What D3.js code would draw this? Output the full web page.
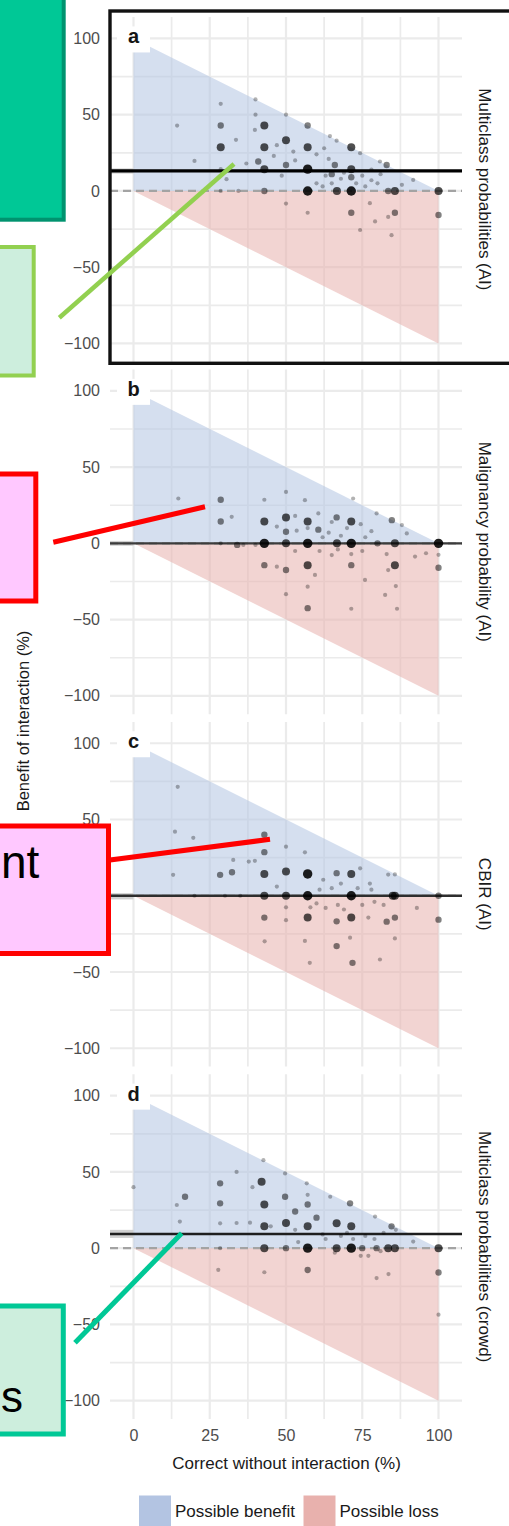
<!DOCTYPE html>
<html>
<head>
<meta charset="utf-8">
<script src="https://cdn.jsdelivr.net/npm/d3@7"></script>
<style>
  html, body { margin: 0; padding: 0; background: #fff; }
  svg { display: block; font-family: "Liberation Sans", Arial, Helvetica, sans-serif; }
</style>
</head>
<body>
<svg id="chart" width="509" height="1526"></svg>
<script>
// ---- data -------------------------------------------------------------
const panelIds = ["a", "b", "c", "d"];
const stripLabels = [
  "Multiclass probabilities (AI)",
  "Malignancy probability (AI)",
  "CBIR (AI)",
  "Multiclass probabilities (crowd)"
];
// mean benefit of interaction per panel, with its interval
const meanBenefit = [13.1, 0, 0, 9.3];
const meanLower = [11.4, -1.6, -2.4, 6.7];
const meanUpper = [14.8, 1.6, 1.7, 12.0];

const xTicks = [0, 25, 50, 75, 100];
const xTickLabels = ["0", "25", "50", "75", "100"];
const yTicks = [100, 50, 0, -50, -100];
const yTickLabels = ["100", "50", "0", "\u221250", "\u2212100"];
const legendLabels = ["Possible benefit", "Possible loss"];

// [correct without interaction %, benefit %, number of overlapping cases]
const pointsA = [
  [14.3,42.9,1],[20,19.7,1],[28.6,57.1,1],[28.6,42.9,2],[28.6,28.6,3],[30.5,7.7,1],[28.6,14.3,1],
  [28.6,0,1],[34.4,0,1],[33.6,33.5,1],[40,60,1],[40,50,1],[42.9,42.9,3],[39.8,40,1],[42.9,28.6,3],
  [40.9,19.3,2],[42.9,14.3,3],[42.9,0,2],[50,50,1],[50,33.3,3],[47,30,1],[52.4,25.8,1],[50,17,2],
  [48.6,10,1],[50,-8.3,1],[57.1,42.9,2],[57.1,28.6,3],[57.1,14.3,4],[57.1,0,4],[57.1,-14.3,1],
  [62.5,28,1],[64.4,36,1],[66.6,33,1],[66,17,2],[65,11,2],[63,10,1],[66.7,0,3],[71.4,28.6,3],
  [71.4,14.3,3],[71.4,9,2],[71.4,0,4],[71.4,-14.3,2],[74.3,-25.6,1],[77.5,-8,1],[79.2,-20,1],
  [83.5,-17,1],[85.7,-14.3,2],[84.6,-29,1],[83,17,2],[80.8,19.3,1],[74.3,24.8,1],[85.7,0,3],
  [83.5,0,2],[91.7,7.2,1],[100,0,3],[100,-15.8,2],
  [60,5,1],[62,3,1],[68,8,1],[69,12,1],[73,5,1],[75,10,1],[76,3,1],[78,7,1],[80,5,1],[81,11,1],
  [78,14,1],[64,21,1],[60,24,1],[53,20,1],[46,23,1],[37,18,1],[88,4,1],[65,5,1]
];
const pointsB = [
  [14.7,29.4,1],[28.6,28.6,2],[28.6,14.3,2],[32.2,17.4,1],[28.6,0,1],[34,-1,2],[42.9,28.6,1],
  [42.9,14.3,3],[42.9,0,4],[42.9,-14.3,2],[47,-15.3,1],[50,33.7,1],[50,17,3],[50,7.6,2],[50,0,3],
  [50,-17.5,2],[50,-33.3,1],[53.5,8.3,1],[56.2,28.3,1],[57.1,14.3,3],[57.1,10,1],[57.1,0,4],
  [57.1,-14.3,3],[57.1,-28.4,1],[57.1,-42.5,2],[59.5,-20.7,1],[60.6,19.6,1],[60.6,9,2],[65,14,1],
  [66.6,17,2],[66.7,0,3],[65,-7.7,1],[71.4,14.3,3],[71.4,0,4],[71.4,-7,1],[71.4,-14.3,2],
  [71.4,-42.9,1],[72,29.4,1],[74.5,12.6,1],[75.9,-24,1],[79.7,19.6,1],[80,0,2],[82.5,-33.8,1],
  [83,-7,1],[84.7,15.2,2],[85.7,0,3],[85.7,-14.3,3],[83.5,-17.5,1],[86,-28,1],[86.4,-42.9,1],
  [89.6,6.5,1],[92.3,-8.7,1],[95.9,-6.5,1],[100,0,4],[100,-16,2],[100,-7.5,1],
  [62,4,1],[64,7,1],[68,5,1],[70,10,1],[76,4,1],[78,8,1],[88,12,1],[53,-5,1],[61,-5,1],
  [67,-4,1],[75,-5,1],[40,-1,1],[47,11,1],[53,18,1],[36,-1,1]
];
const pointsC = [
  [14.5,71.4,1],[13.6,42,1],[19.6,38,1],[13,13.7,1],[28.4,13.7,2],[32.3,15.4,2],[32.7,23.5,1],
  [37.8,22.4,1],[39.8,22.9,1],[42.9,40,2],[42.9,28.6,2],[42.9,14.3,3],[42.9,0,3],[42.9,-14.3,2],
  [43,-29.9,1],[50,32.2,1],[50,15.9,3],[50,0,3],[50,-7.6,1],[50,-16,1],[47,6,1],[56.2,28.5,1],
  [57.1,14.3,4],[57.1,0,4],[57.1,-14.3,3],[56.2,-29.6,1],[57.8,-44,1],[58,-7.6,1],[62.2,10.5,1],
  [65,5,1],[66.6,14.8,2],[66.6,-16.8,2],[66.6,-33,2],[71.4,14.3,3],[71.4,0,4],[71.4,-14.3,3],
  [71,-27.5,1],[71.8,-44,2],[73.5,5,1],[77.5,8,1],[80.8,-41.8,1],[77,-14.3,1],[83,-17,2],
  [83.5,13.9,1],[85,0,3],[85.7,0,3],[85.7,-14.3,2],[85.7,14,1],[85.7,-28,1],[92.9,-8,1],
  [100,-15.7,2],[100,0,2],[74.3,18,1],
  [60,-5,1],[63,-8,1],[67,-6,1],[69,-9,1],[75,-6,1],[79,-4,1],[82,-6,1],[61,4,1],[68,8,1],
  [78,4,1],[20,0,1],[30,0,1],[35,0,1]
];
const pointsD = [
  [0,40,1],[16.9,33.7,2],[14.2,28.3,1],[15.2,17.4,1],[28.4,42.5,2],[28.4,29.4,2],[33.8,50,1],
  [28.4,16.3,1],[33.8,16.5,1],[38.2,16.7,1],[28.4,0,1],[27.8,-14.2,1],[42.6,57.7,1],[42,43.5,3],
  [39,40,1],[42.9,28.6,3],[42.9,14.3,3],[42.9,0,3],[42.9,-15.8,1],[49.7,49,1],[49.7,33.7,2],
  [50,16.5,3],[50,0,2],[53,24,2],[56.8,42.5,1],[57.1,35,1],[57.1,28.6,2],[57.1,14.3,3],[57.1,0,4],
  [57.1,-14.3,2],[60,20,2],[64.5,33.7,1],[66.6,16.3,3],[66.6,0,3],[71,29.4,2],[71.4,14.3,3],
  [71.4,0,4],[75,0,2],[79.2,20.7,1],[79,6,1],[79.7,0,2],[74.5,-5,1],[79.7,-19.6,1],[83.6,-17,1],
  [84.6,14.3,2],[83.5,0,3],[85.7,0,3],[91.7,4.3,1],[100,0,3],[100,-16,2],[100,-43.6,1],[63,6,1],
  [68,8,1],[70,10,1],[72,6,1],[76,8,1],[82,10,1],[86,12,1],[62,9,1],[54,4,1],[66,-3,1],
  [77,-5,1],[81,-2,1],[45,14.3,1],[53,12,1]
];
const panelPoints = [pointsA, pointsB, pointsC, pointsD];

// regions: interaction can at most lift to 100 % or drop to 0 %
const benefitRegion = [[0, 0], [0, 100], [100, 0]];
const lossRegion = [[0, 0], [100, 0], [100, -100]];

// ---- layout -----------------------------------------------------------
const W = 509, H = 1526;
const PX_PER_UNIT = 1.525;
const Y_MAX = 114, Y_MIN = -112;
const PANEL_TOP0 = 17.1, PANEL_STEP = 352.4;
const PANEL_H = (Y_MAX - Y_MIN) * PX_PER_UNIT;

const BLUE = "#b3c4e2", RED = "#e8b1ad", GRID = "#ebebeb";
const meanStyle = [
  { color: "#000", width: 3.2 },
  { color: "#3c3c3c", width: 2.2 },
  { color: "#2e2e2e", width: 2.4 },
  { color: "#1e1e1e", width: 2.6 }
];

const svg = d3.select("#chart");
svg.append("rect").attr("width", W).attr("height", H).attr("fill", "#fff");

const x = d3.scaleLinear().domain([-7.7, 107.7]).range([110, 462]);
const r = d3.scaleSqrt().domain([1, 4]).range([2.1, 4.7]);
const op = d3.scaleLinear().domain([1, 4]).range([0.3, 0.88]);

panelIds.forEach((id, i) => {
  const top = PANEL_TOP0 + i * PANEL_STEP;
  const y = d3.scaleLinear().domain([Y_MIN, Y_MAX]).range([top + PANEL_H, top]);
  const g = svg.append("g").attr("class", "panel-" + id);

  // grid
  g.selectAll("line.hgrid").data(d3.range(-100, 101, 25)).join("line")
    .attr("x1", x.range()[0]).attr("x2", x.range()[1])
    .attr("y1", d => y(d)).attr("y2", d => y(d))
    .attr("stroke", GRID).attr("stroke-width", d => d % 50 === 0 ? 2.2 : 1.7);
  g.selectAll("line.vgrid").data(d3.range(0, 100.1, 12.5)).join("line")
    .attr("x1", d => x(d)).attr("x2", d => x(d))
    .attr("y1", top).attr("y2", top + PANEL_H)
    .attr("stroke", GRID).attr("stroke-width", d => d % 25 === 0 ? 2.2 : 1.7);

  // interval of the mean, left margin
  g.append("rect")
    .attr("x", x.range()[0]).attr("width", x(0) - x.range()[0])
    .attr("y", y(meanUpper[i])).attr("height", y(meanLower[i]) - y(meanUpper[i]))
    .attr("fill", "#d0d0d0");

  // possible benefit / loss regions
  const area = d3.line().x(d => x(d[0])).y(d => y(d[1]));
  g.append("path").attr("d", area(benefitRegion) + "Z")
    .attr("fill", BLUE).attr("fill-opacity", 0.55);
  g.append("path").attr("d", area(lossRegion) + "Z")
    .attr("fill", RED).attr("fill-opacity", 0.55);

  // zero reference
  g.append("line")
    .attr("x1", x.range()[0]).attr("x2", x.range()[1])
    .attr("y1", y(0)).attr("y2", y(0))
    .attr("stroke", "#a3a3a3").attr("stroke-width", 2.2)
    .attr("stroke-dasharray", "8,5");

  // mean benefit
  g.append("line")
    .attr("x1", x.range()[0]).attr("x2", x.range()[1])
    .attr("y1", y(meanBenefit[i])).attr("y2", y(meanBenefit[i]))
    .attr("stroke", meanStyle[i].color).attr("stroke-width", meanStyle[i].width);

  // cases
  g.selectAll("circle").data(panelPoints[i]).join("circle")
    .attr("cx", d => x(d[0])).attr("cy", d => y(d[1]))
    .attr("r", d => r(d[2]))
    .attr("fill", "#000").attr("fill-opacity", d => op(d[2]));

  // panel tag
  g.append("rect")
    .attr("x", x(0) - 16.5).attr("width", 33)
    .attr("y", y(100) - 12).attr("height", 26)
    .attr("fill", "#fff");
  g.append("text")
    .attr("x", x(0)).attr("y", y(100) + 5)
    .attr("text-anchor", "middle")
    .attr("font-size", 20).attr("font-weight", "bold").attr("fill", "#141414")
    .text(id);

  // y axis labels
  const yAxis = d3.axisLeft(y).tickValues(yTicks)
    .tickFormat((d, k) => yTickLabels[k]).tickSize(0).tickPadding(10);
  const ga = g.append("g").attr("transform", `translate(${x.range()[0]},0)`).call(yAxis);
  ga.select(".domain").remove();
  ga.selectAll("text").attr("font-size", 16).attr("fill", "#4d4d4d")
    .attr("font-family", "Liberation Sans, Arial, sans-serif");

  // facet strip
  const cy = top + PANEL_H / 2;
  g.append("text")
    .attr("transform", `translate(484,${cy}) rotate(90)`)
    .attr("text-anchor", "middle").attr("dominant-baseline", "central")
    .attr("font-size", 17).attr("fill", "#1a1a1a")
    .text(stripLabels[i]);

  if (i === panelIds.length - 1) {
    const xAxis = d3.axisBottom(x).tickValues(xTicks)
      .tickFormat((d, k) => xTickLabels[k]).tickSize(0).tickPadding(10.5);
    const gx = g.append("g").attr("transform", `translate(0,${top + PANEL_H})`).call(xAxis);
    gx.select(".domain").remove();
    gx.selectAll("text").attr("font-size", 16).attr("fill", "#4d4d4d")
      .attr("font-family", "Liberation Sans, Arial, sans-serif");
  }
});

// axis titles
svg.append("text")
  .attr("transform", "translate(23,721) rotate(-90)")
  .attr("text-anchor", "middle").attr("dominant-baseline", "central")
  .attr("font-size", 16.5).attr("fill", "#1a1a1a")
  .text("Benefit of interaction (%)");
svg.append("text")
  .attr("x", 286.5).attr("y", 1463)
  .attr("text-anchor", "middle").attr("dominant-baseline", "central")
  .attr("font-size", 17).attr("fill", "#1a1a1a")
  .text("Correct without interaction (%)");

// legend
const legend = svg.append("g").attr("class", "legend");
const legendX = [139, 303.5];
[BLUE, RED].forEach((c, k) => {
  legend.append("rect").attr("x", legendX[k]).attr("y", 1495.5)
    .attr("width", 32).attr("height", 34).attr("fill", c);
  legend.append("text").attr("x", legendX[k] + 36).attr("y", 1511)
    .attr("dominant-baseline", "central").attr("font-size", 17).attr("fill", "#1a1a1a")
    .text(legendLabels[k]);
});

// ---- callouts on top of the figure -------------------------------------
const notes = svg.append("g").attr("class", "callouts");
// highlight frame around panel a
notes.append("rect").attr("x", 110).attr("y", 11).attr("width", 430).attr("height", 352.3)
  .attr("fill", "none").attr("stroke", "#111").attr("stroke-width", 3.4);

function box(x0, y0, x1, y1, fill, stroke, sw) {
  notes.append("rect").attr("x", x0).attr("y", y0)
    .attr("width", x1 - x0).attr("height", y1 - y0)
    .attr("fill", fill).attr("stroke", stroke).attr("stroke-width", sw);
}
function leader(x0, y0, x1, y1, stroke, sw) {
  notes.append("line").attr("x1", x0).attr("y1", y0).attr("x2", x1).attr("y2", y1)
    .attr("stroke", stroke).attr("stroke-width", sw);
}

box(-10, -10, 63.7, 219.7, "#00c896", "#00936f", 4);
box(-10, 247, 33.7, 375.5, "#cdeedd", "#92d050", 4);
leader(59.3, 317.7, 234, 164, "#92d050", 4.5);

box(-10, 474, 35.8, 601, "#ffc8ff", "#ff0000", 5);
leader(53.3, 542.3, 205, 506.7, "#ff0000", 5);

box(-10, 826, 108.5, 953.5, "#ffc8ff", "#ff0000", 5);
leader(110, 860, 270, 839.3, "#ff0000", 5);
notes.append("text").attr("x", 1).attr("y", 878)
  .attr("font-size", 46).attr("fill", "#000").text("nt");

box(-10, 1306, 63.3, 1434, "#cdeedd", "#00c896", 5);
leader(75, 1342.7, 181.7, 1233.3, "#00c896", 5);
notes.append("text").attr("x", 1).attr("y", 1411.5)
  .attr("font-size", 44).attr("fill", "#000").text("s");
</script>
</body>
</html>
